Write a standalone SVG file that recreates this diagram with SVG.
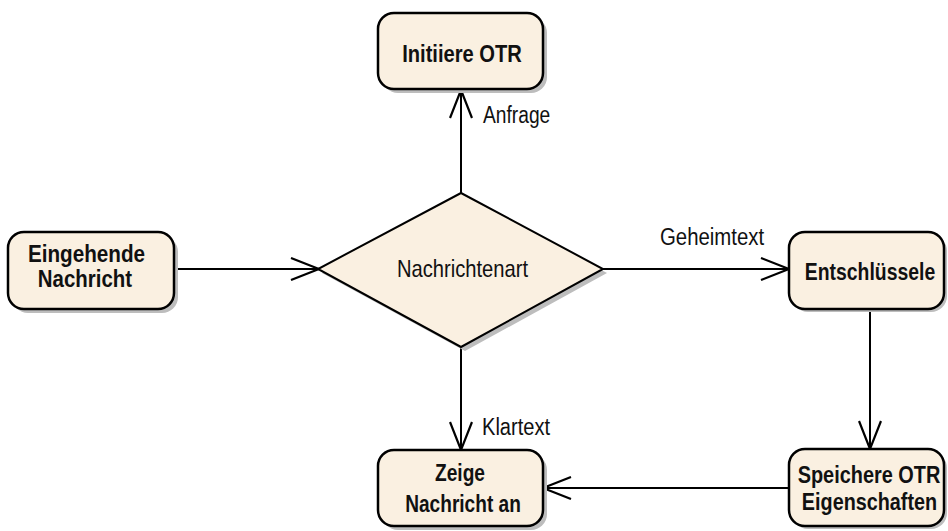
<svg xmlns="http://www.w3.org/2000/svg" width="948" height="531" viewBox="0 0 948 531">
<defs>
<style>
.box{fill:#FAF0E1;stroke:#000;stroke-width:2.5}
.shadow{fill:#BDBDBD;stroke:none}
.nt{font-family:"Liberation Sans",Arial,sans-serif;font-weight:bold;font-size:24px;fill:#111;text-anchor:middle}
.lt{font-family:"Liberation Sans",Arial,sans-serif;font-size:23px;fill:#111}
.edge{fill:none;stroke:#000;stroke-width:2}
</style>
<marker id="arr" viewBox="0 0 30 24" refX="29" refY="12" markerWidth="30" markerHeight="24" markerUnits="userSpaceOnUse" orient="auto">
<path d="M1,1 L29,12 L1,23" fill="none" stroke="#000" stroke-width="2.2"/>
</marker>
</defs>
<rect width="948" height="531" fill="#fff"/>

<g id="connectors">
<line class="edge" x1="461" y1="193" x2="461" y2="90" marker-end="url(#arr)"/>
<line class="edge" x1="175" y1="269" x2="319" y2="269" marker-end="url(#arr)"/>
<line class="edge" x1="603" y1="269" x2="789" y2="269" marker-end="url(#arr)"/>
<line class="edge" x1="870" y1="309" x2="870" y2="449" marker-end="url(#arr)"/>
<line class="edge" x1="789" y1="488" x2="543" y2="488" marker-end="url(#arr)"/>
<line class="edge" x1="461" y1="347" x2="461" y2="450" marker-end="url(#arr)"/>
<text class="lt" transform="translate(483,123) scale(0.82,1)" textLength="82" lengthAdjust="spacingAndGlyphs">Anfrage</text>
<text class="lt" transform="translate(660,245) scale(0.82,1)" textLength="127" lengthAdjust="spacingAndGlyphs">Geheimtext</text>
<text class="lt" transform="translate(482,435) scale(0.82,1)" textLength="83" lengthAdjust="spacingAndGlyphs">Klartext</text>
</g>

<g id="initiiere">
<rect class="shadow" x="382" y="17" width="165" height="76" rx="16"/>
<rect class="box" x="378" y="13" width="165" height="76" rx="16"/>
<text class="nt" transform="translate(462,62) scale(0.82,1)" textLength="146" lengthAdjust="spacingAndGlyphs">Initiiere OTR</text>
</g>

<g id="eingehende">
<rect class="shadow" x="12" y="236" width="166" height="77" rx="16"/>
<rect class="box" x="8" y="232" width="166" height="77" rx="16"/>
<text class="nt" transform="translate(86.5,262) scale(0.82,1)" textLength="143" lengthAdjust="spacingAndGlyphs">Eingehende</text>
<text class="nt" transform="translate(85,287) scale(0.82,1)" textLength="115" lengthAdjust="spacingAndGlyphs">Nachricht</text>
</g>

<g id="nachrichtenart">
<polygon class="shadow" points="465,197 607,273 465,351 322,273"/>
<polygon class="box" points="461,193 603,269 461,347 318,269" style="stroke-width:2"/>
<text class="lt" transform="translate(462.5,277) scale(0.82,1)" text-anchor="middle" textLength="160" lengthAdjust="spacingAndGlyphs" style="font-size:24px">Nachrichtenart</text>
</g>

<g id="entschluessele">
<rect class="shadow" x="792" y="235" width="155" height="77" rx="16"/>
<rect class="box" x="789" y="232" width="155" height="77" rx="16"/>
<text class="nt" transform="translate(870,280) scale(0.82,1)" textLength="159" lengthAdjust="spacingAndGlyphs">Entschlüssele</text>
</g>

<g id="speichere">
<rect class="shadow" x="792" y="452" width="155" height="77" rx="16"/>
<rect class="box" x="789" y="449" width="155" height="77" rx="16"/>
<text class="nt" transform="translate(869,483) scale(0.82,1)" textLength="174" lengthAdjust="spacingAndGlyphs">Speichere OTR</text>
<text class="nt" transform="translate(869.5,510) scale(0.82,1)" textLength="165" lengthAdjust="spacingAndGlyphs">Eigenschaften</text>
</g>

<g id="zeige">
<rect class="shadow" x="382" y="454" width="165" height="76" rx="16"/>
<rect class="box" x="378" y="450" width="165" height="76" rx="16"/>
<text class="nt" transform="translate(460,481) scale(0.82,1)" textLength="61" lengthAdjust="spacingAndGlyphs">Zeige</text>
<text class="nt" transform="translate(463,512) scale(0.82,1)" textLength="141" lengthAdjust="spacingAndGlyphs">Nachricht an</text>
</g>
</svg>
